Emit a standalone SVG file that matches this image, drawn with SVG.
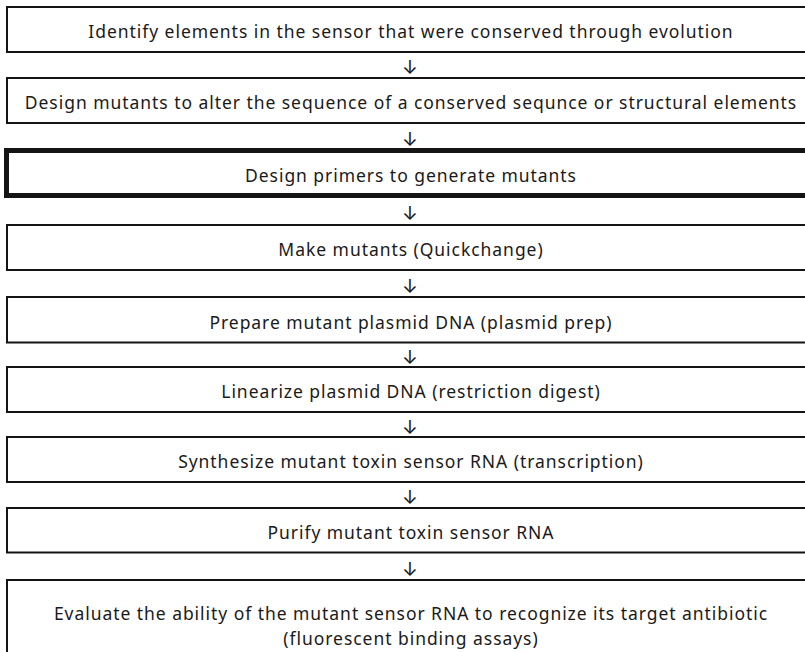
<svg xmlns="http://www.w3.org/2000/svg" width="805" height="652" viewBox="0 0 805 652">
<style>
  .box { fill: none; stroke: #141414; stroke-width: 2; }
  .thick { stroke-width: 5; }
  .t { font-family: "Noto Sans", "Open Sans", sans-serif; font-size: 17.5px; letter-spacing: 0.95px; fill: #1a1a1a; text-anchor: middle; }
  .arr { font-family: Inter, "DejaVu Sans", sans-serif; font-size: 19px; fill: #1a1a1a; text-anchor: middle; }
</style>
<rect width="805" height="652" fill="#ffffff"/>
<g id="n1"><path class="box" d="M805,7 H7 V52 H805"/><text class="t" x="411" y="38">Identify elements in the sensor that were conserved through evolution</text></g>
<g id="n2"><path class="box" d="M805,78 H7 V123 H805"/><text class="t" x="411" y="109">Design mutants to alter the sequence of a conserved sequnce or structural elements</text></g>
<g id="n3"><path class="box thick" d="M805,150.5 H6.5 V195.5 H805"/><text class="t" x="411" y="181.5">Design primers to generate mutants</text></g>
<g id="n4"><path class="box" d="M805,225 H7 V270 H805"/><text class="t" x="411" y="256">Make mutants (Quickchange)</text></g>
<g id="n5"><path class="box" d="M805,297 H7 V342.5 H805"/><text class="t" x="411" y="328.5">Prepare mutant plasmid DNA (plasmid prep)</text></g>
<g id="n6"><path class="box" d="M805,367 H7 V412 H805"/><text class="t" x="411" y="398">Linearize plasmid DNA (restriction digest)</text></g>
<g id="n7"><path class="box" d="M805,437 H7 V482 H805"/><text class="t" x="411" y="468">Synthesize mutant toxin sensor RNA (transcription)</text></g>
<g id="n8"><path class="box" d="M805,508 H7 V552.5 H805"/><text class="t" x="411" y="538.5">Purify mutant toxin sensor RNA</text></g>
<g id="n9"><path class="box" d="M805,580 H7 V652"/><text class="t" x="411" y="620">Evaluate the ability of the mutant sensor RNA to recognize its target antibiotic</text><text class="t" x="411" y="645">(fluorescent binding assays)</text></g>
<g id="connectors">
  <text class="arr" x="410" y="74">↓</text>
  <text class="arr" x="410" y="145.5">↓</text>
  <text class="arr" x="410" y="219.5">↓</text>
  <text class="arr" x="410" y="292.5">↓</text>
  <text class="arr" x="410" y="363.5">↓</text>
  <text class="arr" x="410" y="433.5">↓</text>
  <text class="arr" x="410" y="504">↓</text>
  <text class="arr" x="410" y="575.5">↓</text>
</g>
</svg>
